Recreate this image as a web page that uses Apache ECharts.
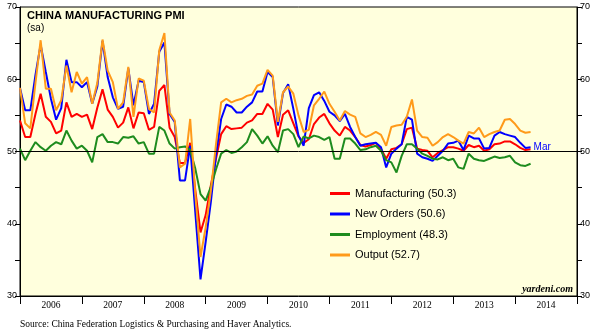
<!DOCTYPE html>
<html><head><meta charset="utf-8">
<script src="https://cdn.jsdelivr.net/npm/echarts@6/dist/echarts.min.js"></script>
<style>html,body{margin:0;padding:0;background:#fff}#c{width:598px;height:331px}</style>
</head><body><div id="c"></div>
<script>
// Monthly, Dec 2005 .. Mar 2014 (100 months)
const startYear = 2005, startMonth = 12;
const yearLabels = ['2006','2007','2008','2009','2010','2011','2012','2013','2014'];
const manufacturing = [
54.3,
52.0,52.0,55.2,58.0,54.8,54.1,52.5,52.9,56.8,54.8,55.2,54.8,
55.1,53.1,56.1,58.6,55.8,54.8,53.3,54.0,56.1,53.2,55.4,55.3,
53.0,53.4,58.4,59.2,53.3,52.0,48.4,48.4,51.2,44.6,38.8,41.2,
45.3,49.0,52.4,53.5,53.1,53.2,53.3,54.0,54.3,55.2,55.2,56.6,
55.8,52.0,55.1,55.7,53.9,52.1,51.2,51.7,53.8,54.7,55.2,53.9,
52.9,52.2,53.4,52.9,52.0,50.9,50.7,50.9,51.2,50.4,49.0,50.3,
50.5,51.0,53.1,53.3,50.4,50.2,50.1,49.2,49.8,50.2,50.6,50.6,
50.4,50.1,50.9,50.6,50.8,50.1,50.3,51.0,51.1,51.4,51.4,51.0,
50.5,50.2,50.3];
const newOrders = [
58.8,
55.7,55.7,60.6,64.8,61.0,57.3,54.4,56.0,62.7,59.6,59.6,58.9,
59.6,56.6,59.0,65.3,60.3,57.5,55.9,56.2,61.5,56.4,59.8,59.6,
55.2,56.6,63.8,65.1,55.2,54.1,46.0,46.0,50.8,41.5,32.3,37.5,
43.0,49.5,54.5,56.5,56.2,55.4,55.4,56.2,56.8,58.3,58.3,61.0,
60.3,53.6,58.1,59.3,55.9,52.2,50.8,56.0,57.8,58.2,57.0,55.5,
55.0,54.2,55.2,53.4,52.0,50.8,51.0,51.1,51.2,50.6,47.8,49.7,
50.4,51.0,54.8,54.4,49.7,49.2,49.0,48.7,49.4,50.1,51.1,51.2,
51.5,50.2,52.2,51.8,51.8,50.4,50.5,52.2,52.7,52.4,52.2,52.0,
51.2,50.5,50.6];
const employment = [
50.4,
48.8,50.1,51.3,50.6,50.1,50.8,51.3,51.0,52.9,51.5,50.4,50.8,
50.1,48.5,52.0,52.4,51.3,51.3,51.1,52.0,51.9,52.1,51.1,51.3,
49.7,49.7,53.4,52.9,51.1,50.4,50.6,50.7,50.2,47.6,44.1,43.2,
45.1,47.5,49.7,50.2,49.8,50.0,50.6,51.3,53.1,52.2,51.1,52.1,
50.8,49.9,52.9,53.1,52.4,50.6,52.1,51.8,52.2,52.0,51.6,52.0,
49.0,49.0,51.8,51.8,51.1,50.2,50.3,50.6,50.8,50.1,48.8,48.5,
47.1,49.4,51.0,51.0,50.4,49.7,49.4,49.0,48.9,49.2,48.8,49.0,
47.8,47.6,49.7,49.0,48.8,48.7,49.0,49.3,49.1,49.2,49.4,48.5,
48.1,48.0,48.3];
const output = [
58.8,
53.9,53.2,59.5,65.4,58.7,58.7,55.7,57.1,61.9,58.2,61.0,59.4,
60.3,56.6,59.5,65.5,61.2,59.6,55.9,56.8,61.7,54.8,60.1,59.8,
55.9,55.4,64.0,66.4,55.4,54.3,47.8,48.3,54.5,44.0,35.4,39.5,
44.5,51.0,56.8,57.3,56.8,57.1,57.3,57.7,57.9,59.1,59.4,61.3,
60.5,54.1,58.2,59.0,58.0,55.0,52.7,53.0,56.4,57.3,58.3,56.6,
55.5,54.3,55.6,55.1,54.8,52.5,52.0,52.3,52.7,52.3,50.8,53.4,
53.6,53.7,54.8,57.2,52.9,52.0,51.9,50.8,51.3,52.0,52.4,52.0,
51.5,51.1,52.7,52.5,53.3,52.0,52.4,52.7,52.9,54.4,54.5,53.8,
52.9,52.6,52.7];

// month-end positions on a year scale
const xPos = manufacturing.map((_, i) => startYear + startMonth / 12 + i / 12);
const pairs = arr => arr.map((v, i) => [xPos[i], v]);

const chart = echarts.init(document.getElementById('c'), null, {renderer: 'canvas'});
const axisFont = 'Liberation Sans, Arial, sans-serif';
const serif = 'Liberation Serif, Times New Roman, serif';
const yAxisBase = {
  type: 'value', min: 30, max: 70, interval: 5,
  axisLine: {show: true, lineStyle: {color: '#000', width: 1}},
  axisTick: {show: true, length: 5, lineStyle: {color: '#000'}},
  splitLine: {show: false},
  axisLabel: {color: '#000', fontSize: 9, fontFamily: axisFont, margin: 3,
    formatter: v => (v % 10 === 0 ? String(v) : '')}
};
const lineBase = {type: 'line', showSymbol: false, symbol: 'none', lineStyle: {width: 2}, z: 3};

chart.setOption({
  animation: false,
  backgroundColor: '#fff',
  grid: {left: 20, right: 21, top: 7, bottom: 35, show: true, backgroundColor: '#FFFFDD', borderColor: '#000', borderWidth: 1},
  xAxis: [
    {type: 'value', min: 2006, max: 2015, interval: 1,
     axisLine: {show: true, onZero: false, lineStyle: {color: '#000'}},
     axisTick: {show: true, length: 8, lineStyle: {color: '#000'}},
     axisLabel: {show: false}, splitLine: {show: false}},
    {type: 'category', data: yearLabels, position: 'bottom', boundaryGap: true,
     axisLine: {show: false}, axisTick: {show: false}, splitLine: {show: false},
     axisLabel: {interval: 0, color: '#000', fontSize: 9.5, fontFamily: serif, margin: 4}}
  ],
  yAxis: [
    Object.assign({}, yAxisBase, {position: 'left'}),
    Object.assign({}, yAxisBase, {position: 'right'})
  ],
  legend: {
    orient: 'vertical', left: 325, top: 182, itemWidth: 20, itemHeight: 3, itemGap: 7.5,
    icon: 'rect', itemStyle: {borderWidth: 0},
    textStyle: {fontSize: 11, fontFamily: axisFont, color: '#000', lineHeight: 13},
    data: ['Manufacturing (50.3)', 'New Orders (50.6)', 'Employment (48.3)', 'Output (52.7)']
  },
  series: [
    Object.assign({}, lineBase, {name: 'Manufacturing (50.3)', color: '#FF0000', data: pairs(manufacturing),
      markLine: {silent: true, symbol: 'none', label: {show: false},
        lineStyle: {color: '#000', type: 'solid', width: 1}, data: [{yAxis: 50}]}}),
    Object.assign({}, lineBase, {name: 'New Orders (50.6)', color: '#0000FF', data: pairs(newOrders),
      endLabel: {show: true, formatter: 'Mar', color: '#0000FF', fontSize: 10, fontFamily: axisFont, distance: 3}}),
    Object.assign({}, lineBase, {name: 'Employment (48.3)', color: '#1E8C1E', data: pairs(employment)}),
    Object.assign({}, lineBase, {name: 'Output (52.7)', color: '#FF9A1A', data: pairs(output)})
  ],
  graphic: [
    {type: 'text', left: 27, top: 10, style: {text: 'CHINA MANUFACTURING PMI', fontSize: 11, fontWeight: 'bold', fontFamily: axisFont, fill: '#000'}},
    {type: 'text', left: 27, top: 23, style: {text: '(sa)', fontSize: 10, fontFamily: axisFont, fill: '#000'}},
    {type: 'text', left: 20, top: 319, style: {text: 'Source: China Federation Logistics & Purchasing and Haver Analytics.', fontSize: 9.5, fontFamily: serif, fill: '#000'}},
    {type: 'text', right: 25, top: 284, style: {text: 'yardeni.com', fontSize: 10, fontWeight: 'bold', fontStyle: 'italic', fontFamily: serif, fill: '#000'}}
  ]
});
</script></body></html>
